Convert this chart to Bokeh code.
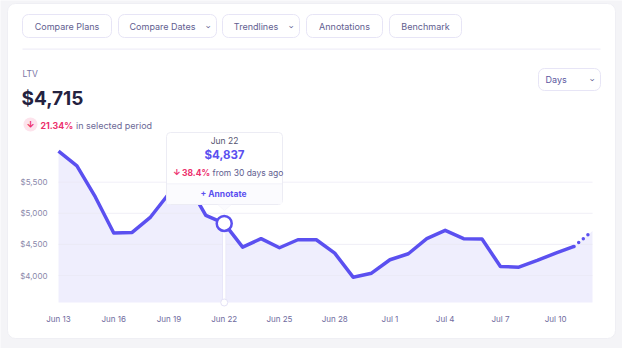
import math
from datetime import datetime, timedelta

from bokeh.plotting import figure
from bokeh.models import (Range1d, Label, BoxAnnotation, PolyAnnotation,
                          NumeralTickFormatter, DatetimeTickFormatter, FixedTicker)
from bokeh.embed import file_html
from bokeh.resources import INLINE

# ---------------- data ----------------
start_day = datetime(2023, 6, 13)
ltv_values = [6000, 5763, 5263, 4683, 4693, 4940, 5318, 5480, 4968, 4837,
              4456, 4592, 4446, 4575, 4575, 4360, 3973, 4037, 4253, 4350,
              4592, 4726, 4592, 4586, 4145, 4134, 4242, 4360, 4468, 4715]
dates = [start_day + timedelta(days=i) for i in range(len(ltv_values))]
x_tick_labels = ["Jun 13", "Jun 16", "Jun 19", "Jun 22", "Jun 25", "Jun 28",
                 "Jul 1", "Jul 4", "Jul 7", "Jul 10"]
y_ticks = [4000, 4500, 5000, 5500]
buttons = ["Compare Plans", "Compare Dates", "Trendlines", "Annotations", "Benchmark"]
headline_metric = "LTV"
headline_value = "$4,715"
headline_change = "21.34%"
hover_index = 9
hover_value_text = "$4,837"
hover_change = "38.4%"

# ---------------- style ----------------
FONT = "Inter"
PURPLE = "#5b50f0"
PINK = "#ec2f6c"
GRAY_TXT = "#625e90"
BG = "#f4f4f7"

W, H = 622, 348
# chart area in canvas px: x 58..592, baseline y 302
PX_PER_DAY = (592 - 58) / (len(dates) - 1)
USD_PER_PX = 1500 / 93.3
BASE = 4000 - 27 * USD_PER_PX          # value at chart baseline (y=302)


def ms(d):
    return (d - datetime(1970, 1, 1)).total_seconds() * 1000.0


x_start = dates[0] - timedelta(days=58 / PX_PER_DAY)
x_end = dates[-1] + timedelta(days=(W - 592) / PX_PER_DAY)
y_top = 4000 + 275 * USD_PER_PX
y_bot = 4000 - (H - 275) * USD_PER_PX

p = figure(width=W, height=H, output_backend="svg", toolbar_location=None,
           x_axis_type="datetime",
           x_range=Range1d(x_start, x_end), y_range=Range1d(y_bot, y_top),
           min_border=0)
p.border_fill_color = BG
p.background_fill_color = BG
p.outline_line_color = None

# card
card = BoxAnnotation(left=7, right=615, top=3, bottom=338,
                     left_units="canvas", right_units="canvas",
                     top_units="canvas", bottom_units="canvas",
                     fill_color="white", fill_alpha=1, line_color="#efeff4",
                     line_alpha=1, border_radius=8, level="image")
p.add_layout(card)

# axes (drawn inside the canvas at the chart edges)
p.yaxis.fixed_location = ms(dates[0])
p.yaxis.ticker = FixedTicker(ticks=y_ticks)
p.yaxis.formatter = NumeralTickFormatter(format="$0,0")
p.yaxis.axis_line_color = None
p.yaxis.major_tick_line_color = None
p.yaxis.minor_tick_line_color = None
p.yaxis.major_tick_out = 0
p.yaxis.major_tick_in = 0
p.yaxis.major_label_text_font = FONT
p.yaxis.major_label_text_font_size = "8px"
p.yaxis.major_label_text_color = "#8a87aa"
p.yaxis.major_label_standoff = 11

x_tick_ms = [ms(start_day + timedelta(days=3 * i)) for i in range(len(x_tick_labels))]
p.xaxis.fixed_location = BASE
p.xaxis.ticker = FixedTicker(ticks=x_tick_ms)
p.xaxis.formatter = DatetimeTickFormatter(days="%b %-d", months="%b %-d")
p.xaxis.axis_line_color = None
p.xaxis.major_tick_line_color = None
p.xaxis.minor_tick_line_color = None
p.xaxis.major_tick_out = 0
p.xaxis.major_tick_in = 0
p.xaxis.major_label_text_font = FONT
p.xaxis.major_label_text_font_size = "8px"
p.xaxis.major_label_text_color = "#6f6b9e"
p.xaxis.major_label_standoff = 11

p.xgrid.grid_line_color = None
p.ygrid.grid_line_color = None

# area, grid lines, line
p.varea(x=dates, y1=[BASE] * len(dates), y2=ltv_values, fill_color="#efeefd")
p.segment(x0=[dates[0]] * len(y_ticks), y0=y_ticks, x1=[dates[-1]] * len(y_ticks),
          y1=y_ticks, line_color="#e9e8f4", line_width=1, line_alpha=0.7)
p.line(dates[:-1], ltv_values[:-1], line_color=PURPLE, line_width=3.5, line_join="round")
p.line(dates[-2:], ltv_values[-2:], line_color=PURPLE, line_width=3.5,
       line_dash="0 6", line_cap="round")

# hover guide
hx = dates[hover_index]
hy = ltv_values[hover_index]
p.segment(x0=[hx], y0=[BASE], x1=[hx], y1=[hy], line_color="#e6e4f8", line_width=4)
p.segment(x0=[hx], y0=[BASE], x1=[hx], y1=[hy], line_color="white", line_width=2.5)
p.scatter([hx], [BASE], size=7, fill_color="white", line_color="#e4e2f6", line_width=1)
p.scatter([hx], [hy], size=15, fill_color="white", line_color=PURPLE, line_width=2.5)


def box(l, t, r, b, fill="white", line="#e7e5f6", radius=6, level="annotation", lw=1):
    bx = BoxAnnotation(left=l, right=r, top=t, bottom=b,
                       left_units="canvas", right_units="canvas",
                       top_units="canvas", bottom_units="canvas",
                       fill_color=fill, fill_alpha=1, line_color=line,
                       line_alpha=1 if line else 0,
                       line_width=lw, border_radius=radius, level=level)
    p.add_layout(bx)


def label(x, y, text, size="9px", color=GRAY_TXT, style="normal", align="left",
          baseline="middle", angle=0, font=FONT, level="annotation"):
    lb = Label(x=x, y=y, x_units="canvas", y_units="canvas", text=text,
               text_font=font, text_font_size=size, text_color=color,
               text_font_style=style, text_align=align, text_baseline=baseline,
               angle=angle, level=level)
    p.add_layout(lb)


# toolbar buttons
btn_boxes = [(22, 111), (118, 216), (222, 299), (306, 382), (389, 461)]
for (l, r), name in zip(btn_boxes, buttons):
    box(l, 14, r, 37)
    has_chev = name in ("Compare Dates", "Trendlines")
    cx = (l + r) / 2 - (5 if has_chev else 0)
    label(cx, 26, name, size="9px", align="center")
    if has_chev:
        label(r - 8, 26.5, "›", size="8px", align="center", angle=-math.pi / 2)

# separator
box(22, 48, 600, 49.2, fill="#efeef8", line=None, radius=0)

# headline
label(22, 73.5, headline_metric, size="8.5px", color="#7a76a6")
label(21, 97.5, headline_value, size="19px", color="#24223f", style="bold")
box(23, 117, 37, 131, fill="#fde3ec", line=None, radius=7)
label(30, 124, "↓", size="9px", color=PINK, style="bold", align="center")
label(40, 124.5, headline_change, size="8.8px", color=PINK, style="bold")
label(75.5, 124.5, "in selected period", size="9px", color="#6c6896")

# Days dropdown
box(538, 68, 600, 90)
label(545, 79, "Days", size="9px", color="#5c58a0")
label(592, 79.5, "›", size="8px", align="center", angle=-math.pi / 2)

# tooltip
box(166, 132, 282, 204, line="#ececf4", radius=4, level="overlay")
box(166.5, 183, 281.5, 203.5, fill="#fbfbfe", line=None, radius=0, level="overlay")
box(166.5, 183, 281.5, 183.8, fill="#f0eff7", line=None, radius=0, level="overlay")
caret = PolyAnnotation(xs=[217, 224, 231], ys=[204, 210, 204],
                       xs_units="canvas", ys_units="canvas",
                       fill_color="#fbfbfe", fill_alpha=1, line_color="#ececf4",
                       level="overlay")
p.add_layout(caret)
label(224, 140.5, "Jun 22", size="8.5px", color="#55536f", align="center", level="overlay")
label(224, 154.5, hover_value_text, size="11.5px", color=PURPLE, style="bold",
      align="center", level="overlay")
label(172.5, 172, "↓", size="8.5px", color=PINK, style="bold", level="overlay")
label(181.5, 172, hover_change, size="8.5px", color=PINK, style="bold", level="overlay")
label(212, 172, "from 30 days ago", size="8.5px", color=GRAY_TXT, level="overlay")
label(223, 193, "+ Annotate", size="8.5px", color=PURPLE, style="bold",
      align="center", level="overlay")

open("out.html", "w").write(file_html(p, INLINE))
